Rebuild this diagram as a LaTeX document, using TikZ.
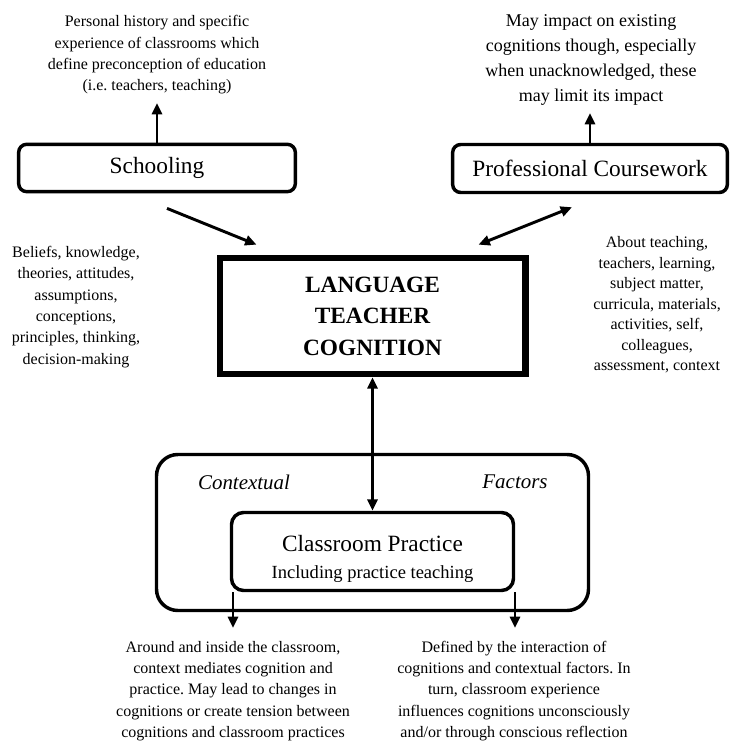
\documentclass[tikz,border=0pt]{standalone}
\usepackage{fontspec}
\setmainfont{Liberation Serif}
\usetikzlibrary{arrows.meta}
\frenchspacing
\begin{document}
\begin{tikzpicture}[x=0.75pt,y=-0.75pt,
  box/.style={draw, line width=2.6pt, rounded corners=6pt, inner sep=0pt},
  arr/.style={line width=2.2pt, -{Triangle[length=8.5pt,width=7.5pt]}},
  darr/.style={line width=2.2pt, {Triangle[length=8.5pt,width=7.5pt]}-{Triangle[length=8.5pt,width=7.5pt]}},
  txt/.style={align=center, inner sep=0pt, font=\fontsize{12}{16}\selectfont},
  lbl/.style={font=\fontsize{17.5}{21}\selectfont},
  ital/.style={inner sep=0pt, font=\itshape\fontsize{15.7}{18}\selectfont}]
\useasboundingbox (0,0) rectangle (731,741);

% boxes
\node[box, lbl, minimum width=207.5pt, minimum height=35.5pt] (sch) at (157,168) {Schooling};
\node[box, lbl, minimum width=206pt, minimum height=36pt] (pc) at (590,168.5) {Professional Coursework};
\node[draw, line width=5pt, minimum width=229pt, minimum height=87pt, align=center,
      font=\bfseries\fontsize{17.5}{23.6}\selectfont] (ltc) at (372.5,316) {LANGUAGE\\TEACHER\\COGNITION};
\node[draw, line width=2.6pt, rounded corners=16pt, minimum width=324pt, minimum height=117pt] (ctx) at (372.5,532.5) {};
\node[box, rounded corners=9pt, minimum width=211.5pt, minimum height=58.5pt] (cp) at (372.5,551.5) {};
\node[align=center, inner sep=0pt, font=\fontsize{17.5}{21.5}\selectfont] (cpt) at (372.5,559)
  {Classroom Practice\\[-1pt]{\fontsize{13.9}{16}\selectfont Including practice teaching}};
\node[ital] (c1) at (244,482) {Contextual};
\node[ital] (c2) at (515,482) {Factors};

% texts
\node[txt] (t1) at (157,55) {Personal history and specific\\experience of classrooms which\\define preconception of education\\(i.e. teachers, teaching)};
\node[txt, font=\fontsize{13.5}{18.75}\selectfont] (t2) at (591,59.5) {May impact on existing\\cognitions though, especially\\when unacknowledged, these\\may limit its impact};
\node[txt] (tl) at (76,307) {Beliefs, knowledge,\\theories, attitudes,\\assumptions,\\conceptions,\\principles, thinking,\\decision-making};
\node[txt, font=\fontsize{12}{15.4}\selectfont] (tr) at (657,305) {About teaching,\\teachers, learning,\\subject matter,\\curricula, materials,\\activities, self,\\colleagues,\\assessment, context};
\node[txt] (bl) at (233,691) {Around and inside the classroom,\\context mediates cognition and\\practice. May lead to changes in\\cognitions or create tension between\\cognitions and classroom practices};
\node[txt] (br) at (514,691) {Defined by the interaction of\\cognitions and contextual factors. In\\turn, classroom experience\\influences cognitions unconsciously\\and/or through conscious reflection};

% connectors
\coordinate (t1a) at (157,103);
\coordinate (t2a) at (590,113);
\draw[arr] (sch.north) -- (t1a);
\draw[arr] (pc.north) -- (t2a);
\draw[arr] ([shift={(10,15)}]sch.south) -- ([shift={(40,-10)}]ltc.north west);
\draw[darr] ([shift={(-50,-10)}]ltc.north east) -- ([shift={(-18,13)}]pc.south);
\draw[darr] (ltc.south) -- (cp.north);
\coordinate (d1) at (233,628);
\coordinate (d2) at (515,628);
\draw[arr] (cp.south -| d1) -- (d1);
\draw[arr] (cp.south -| d2) -- (d2);
\end{tikzpicture}
\end{document}
